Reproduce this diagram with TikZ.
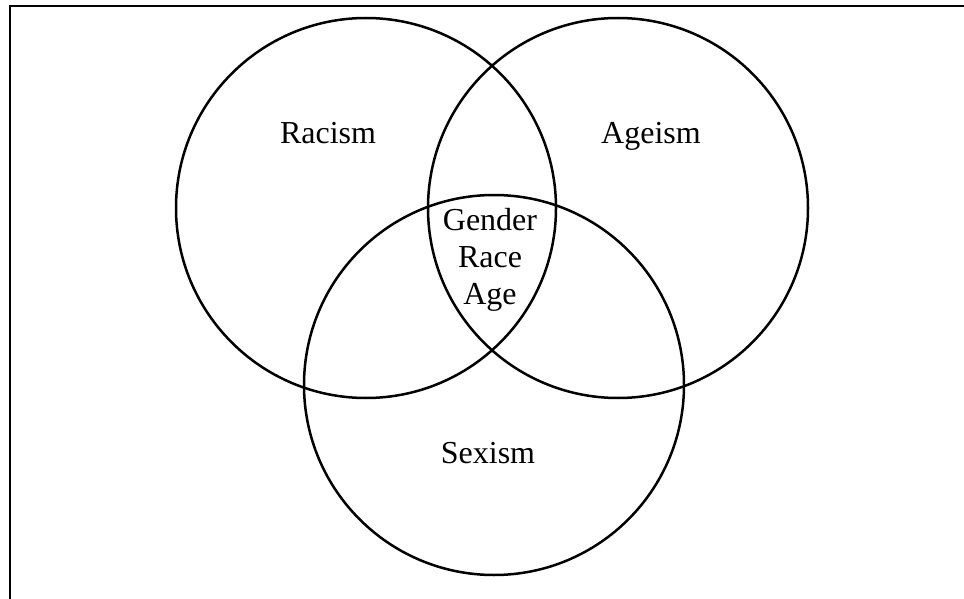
\documentclass[tikz,border=0pt]{standalone}
\usepackage{fontspec}
\setmainfont{Liberation Serif}
\usepackage{tikz}

\begin{document}
\begin{tikzpicture}[
    x=1pt, y=-1pt,
    ensemble/.style={circle, draw, line width=2.5pt, minimum size=380pt, inner sep=0pt},
    etiquette/.style={font=\fontsize{32}{37}\selectfont, inner sep=0pt, align=center},
  ]
  \useasboundingbox (0,0) rectangle (964,599);
  \clip (0,0) rectangle (964,599);
  \draw[line width=2.6pt] (10,6) rectangle (1000,640); % cadre
  \node[ensemble] (racisme) at (366,208) {};
  \node[ensemble] (agisme)  at (618,208) {};
  \node[ensemble] (sexisme) at (494,385) {};
  \node[etiquette, anchor=base] (lracisme) at (328,143) {Racism};
  \node[etiquette, anchor=base] (lagisme)  at (651,143) {Ageism};
  \node[etiquette, anchor=base] (lsexisme) at (488,463) {Sexism};
  \node[etiquette] (centre) at (490,260) {Gender\\Race\\Age};
\end{tikzpicture}
\end{document}
